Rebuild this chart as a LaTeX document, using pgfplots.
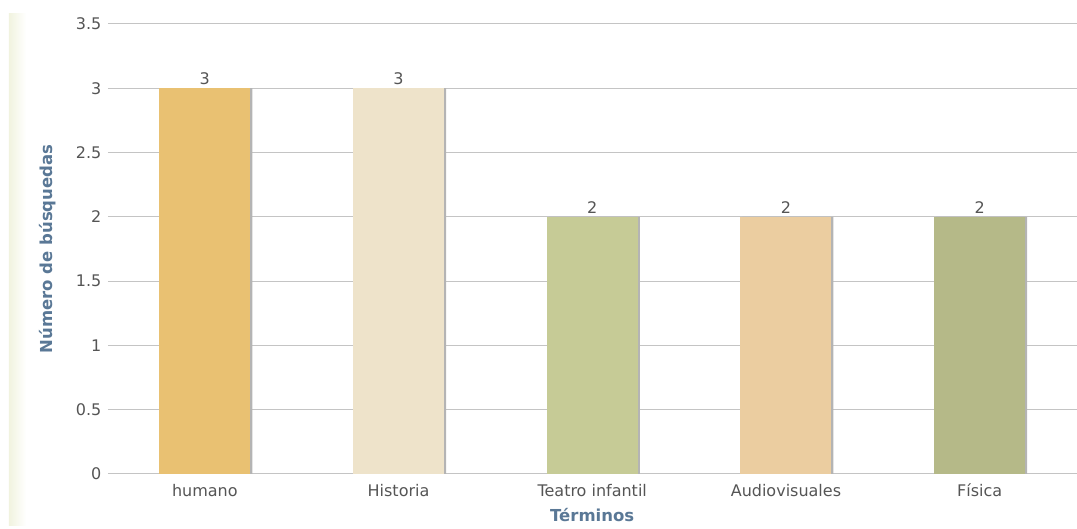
\documentclass[border=0pt]{standalone}
\usepackage{pgfplots}
\pgfplotsset{compat=1.18}
\usepackage{fontspec}
\setmainfont{DejaVu Sans}
\definecolor{cHum}{HTML}{E9C172}
\definecolor{cHis}{HTML}{EEE3CA}
\definecolor{cTea}{HTML}{C6CB96}
\definecolor{cAud}{HTML}{EBCDA0}
\definecolor{cFis}{HTML}{B5B988}
\definecolor{gridc}{HTML}{C4C4C4}
\definecolor{txt}{HTML}{555555}
\definecolor{labc}{HTML}{5A7896}
\definecolor{cream}{HTML}{F1F3DF}
\definecolor{shadow}{HTML}{B4B4B4}
\begin{document}
\begin{tikzpicture}
\begin{axis}[
  scale only axis,
  width=969pt, height=450pt,
  xmin=-0.5, xmax=4.5, ymin=0, ymax=3.5,
  ytick={0,0.5,1,1.5,2,2.5,3,3.5},
  yticklabels={0,0.5,1,1.5,2,2.5,3,3.5},
  xtick={0,1,2,3,4},
  xticklabels={humano,Historia,Teatro infantil,Audiovisuales,Física},
  ybar, bar width=0.47, bar shift=0pt,
  ymajorgrids, grid style={color=gridc, line width=1pt},
  axis line style={draw=none},
  major tick length=0pt,
  tick label style={font=\fontsize{16}{19}\selectfont, color=txt},
  /pgf/number format/assume math mode=true,
  xticklabel style={anchor=base, yshift=-23pt},
  yticklabel style={anchor=east, xshift=-3pt},
  ylabel={Número de búsquedas},
  ylabel style={font=\bfseries\fontsize{16.5}{19}\selectfont, color=labc,
    at={(axis description cs:-0.062,0.5)}, anchor=center},
  xlabel={Términos},
  xlabel style={font=\bfseries\fontsize{16.5}{19}\selectfont, color=labc,
    at={(axis description cs:0.5,-0.091)}, anchor=center},
  every node near coord/.append style={font=\fontsize{16}{19}\selectfont, color=txt},
]
\addplot[fill=shadow, draw=none, bar shift=2pt] coordinates {(0,3) (1,3) (2,2) (3,2) (4,2)};
\addplot[fill=cHum, draw=none, nodes near coords] coordinates {(0,3)};
\addplot[fill=cHis, draw=none, nodes near coords] coordinates {(1,3)};
\addplot[fill=cTea, draw=none, nodes near coords] coordinates {(2,2)};
\addplot[fill=cAud, draw=none, nodes near coords] coordinates {(3,2)};
\addplot[fill=cFis, draw=none, nodes near coords] coordinates {(4,2)};
\end{axis}
\shade[left color=cream, right color=white] ([shift={(-99pt,-52pt)}]current axis.south west) rectangle ++(17pt,512pt);
\path ([shift={(-108pt,-55pt)}]current axis.south west) rectangle ([shift={(0pt,24pt)}]current axis.north east);
\end{tikzpicture}
\end{document}
